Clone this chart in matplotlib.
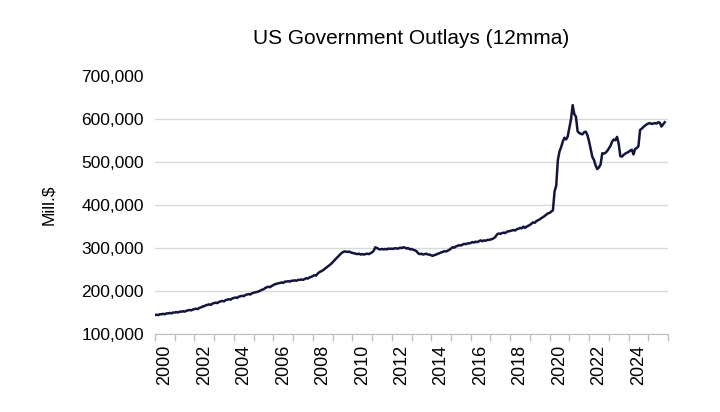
import numpy as np
import matplotlib.pyplot as plt
from matplotlib.ticker import FuncFormatter, FixedLocator

plt.rcParams['font.family'] = ['Liberation Sans', 'DejaVu Sans']

# monthly 12mma outlays, thousand mill.$, Jan 2000 - Nov 2025
y2000 = [144, 145, 144, 146, 146, 147, 146, 148, 148, 149, 148, 150]
y2001 = [150, 151, 150, 152, 152, 153, 152, 154, 155, 156, 155, 157]
y2002 = [158, 159, 158, 161, 162, 164, 165, 167, 168, 169, 168, 171]
y2003 = [172, 173, 172, 175, 176, 177, 176, 179, 180, 181, 180, 183]
y2004 = [184, 185, 184, 187, 188, 189, 188, 191, 192, 193, 192, 195]
y2005 = [196, 197, 198, 199, 201, 203, 204, 207, 209, 210, 209, 212]
y2006 = [214, 216, 217, 218, 219, 220, 219, 222, 222, 223, 222, 224]
y2007 = [224, 225, 224, 226, 226, 227, 226, 228, 230, 229, 232, 233]
y2008 = [235, 237, 236, 241, 244, 246, 248, 251, 254, 257, 260, 263]
y2009 = [267, 271, 275, 279, 283, 287, 290, 292, 292, 291, 292, 290]
y2010 = [289, 288, 287, 286, 287, 285, 286, 285, 286, 287, 286, 288]
y2011 = [290, 294, 302, 300, 298, 297, 298, 297, 298, 297, 299, 298]
y2012 = [299, 298, 300, 299, 299, 301, 300, 302, 301, 299, 300, 297]
y2013 = [298, 296, 295, 293, 288, 286, 287, 285, 286, 287, 285, 285]
y2014 = [283, 282, 284, 285, 287, 288, 290, 291, 293, 292, 294, 296]
y2015 = [299, 302, 301, 304, 305, 307, 306, 308, 310, 309, 311, 311]
y2016 = [312, 314, 313, 315, 314, 316, 318, 316, 318, 317, 319, 319]
y2017 = [320, 321, 323, 326, 332, 334, 333, 335, 336, 335, 338, 339]
y2018 = [340, 341, 342, 341, 344, 345, 347, 346, 350, 347, 350, 352]
y2019 = [354, 357, 360, 359, 363, 365, 367, 370, 372, 375, 378, 381]
y2020 = [382, 385, 388, 432, 445, 505, 525, 535, 548, 557, 553, 560]
y2021 = [580, 600, 633, 612, 606, 572, 568, 566, 565, 570, 571, 563]
y2022 = [548, 530, 512, 505, 492, 484, 488, 495, 521, 520, 522, 526]
y2023 = [532, 538, 548, 553, 551, 559, 543, 514, 513, 517, 520, 522]
y2024 = [524, 527, 529, 518, 531, 533, 537, 575, 578, 582, 585, 588]
y2025 = [590, 591, 589, 590, 591, 590, 593, 592, 583, 588, 593]

outlays = np.array(y2000 + y2001 + y2002 + y2003 + y2004 + y2005 + y2006 + y2007
                   + y2008 + y2009 + y2010 + y2011 + y2012 + y2013 + y2014 + y2015
                   + y2016 + y2017 + y2018 + y2019 + y2020 + y2021 + y2022 + y2023
                   + y2024 + y2025) * 1000
t = 2000 + np.arange(len(outlays)) / 12

year_ticks = list(range(2000, 2027))
label_years = list(range(2000, 2025, 2))
y_ticks = [100000, 200000, 300000, 400000, 500000, 600000, 700000]

fig = plt.figure(figsize=(7.2, 4.12), dpi=100)
ax = fig.add_axes([0.2153, 0.1893, 0.7125, 0.6255])

ax.plot(t, outlays, color="#14143c", lw=1.8)

ax.set_xlim(2000, 2026)
ax.set_ylim(100000, 700000)

ax.xaxis.set_major_locator(FixedLocator(year_ticks))
ax.xaxis.set_major_formatter(FuncFormatter(lambda v, p: ""))
ax.xaxis.set_minor_locator(FixedLocator([y + 0.5 for y in label_years]))
ax.xaxis.set_minor_formatter(FuncFormatter(lambda v, p: str(int(v))))
ax.tick_params(axis="x", which="major", length=5, color="#bfbfbf", width=1)
ax.tick_params(axis="x", which="minor", length=0, labelsize=13, labelrotation=90, pad=8)

ax.set_yticks(y_ticks)
ax.yaxis.set_major_formatter(FuncFormatter(lambda v, p: f"{int(v):,}"))
ax.tick_params(axis="y", length=0, labelsize=12.5, pad=8)
ax.yaxis.grid(True, color="#d9d9d9", lw=1)
ax.get_ygridlines()[-1].set_visible(False)
ax.set_axisbelow(True)

for s in ["top", "right", "left"]:
    ax.spines[s].set_visible(False)
ax.spines["bottom"].set_color("#bfbfbf")

ax.set_ylabel("Mill.$", fontsize=12.5, labelpad=18)
ax.set_title("US Government Outlays (12mma)", fontsize=15, pad=23)

fig.savefig("out.png", dpi=100)
